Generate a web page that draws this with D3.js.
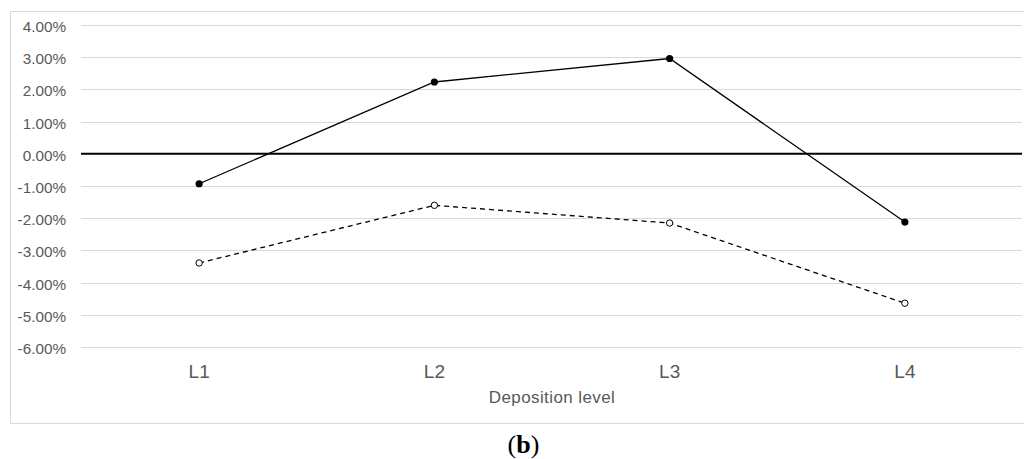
<!DOCTYPE html>
<html><head><meta charset="utf-8">
<script src="https://cdn.jsdelivr.net/npm/d3@7"></script>
<style>body{margin:0;background:#fff;} svg{display:block;}</style>
</head><body><svg id="c" width="1024" height="459"></svg>
<script>
const categories = ["L1","L2","L3","L4"];
const seriesSolid = [-0.93, 2.23, 2.96, -2.12];
const seriesDashed = [-3.39, -1.60, -2.15, -4.64];
const yTicks = [4,3,2,1,0,-1,-2,-3,-4,-5,-6];
const xTitle = "Deposition level";
const caption = "b";

const svg = d3.select("#c");
svg.append("rect").attr("x",10.5).attr("y",11.5).attr("width",1024).attr("height",412)
  .attr("fill","#fff").attr("stroke","#d9d9d9");

const x = d3.scaleBand().domain(categories).range([81.5,1022.5]);
const y = d3.scaleLinear().domain([-6,4]).range([347,25]);

const g = svg.append("g");
g.selectAll("line.grid").data(yTicks.filter(d=>d!==0)).join("line")
  .attr("x1",81).attr("x2",1022).attr("y1",d=>Math.round(y(d))+0.5).attr("y2",d=>Math.round(y(d))+0.5)
  .attr("stroke","#d9d9d9").attr("stroke-width",1);
g.append("line").attr("x1",81).attr("x2",1022).attr("y1",y(0)).attr("y2",y(0))
  .attr("stroke","#000").attr("stroke-width",2);

const yAxis = d3.axisLeft(y).tickValues(yTicks).tickSize(0).tickPadding(0)
  .tickFormat(d=>(d<0?"-":"")+Math.abs(d).toFixed(2)+"%");
const ya = svg.append("g").attr("transform","translate(66,0)").call(yAxis);
ya.select(".domain").remove();
ya.selectAll("text").attr("font-family","Liberation Sans, Arial, sans-serif").attr("font-size",15.3).attr("fill","#595959").attr("dy","0.42em");

const xAxis = d3.axisBottom(x).tickSize(0).tickPadding(0);
const xa = svg.append("g").attr("transform","translate(0,364)").call(xAxis);
xa.select(".domain").remove();
xa.selectAll("text").attr("font-family","Liberation Sans, Arial, sans-serif").attr("font-size",19).attr("fill","#595959").attr("dy","0.73em");

svg.append("text").attr("x",552).attr("y",403).attr("text-anchor","middle")
  .attr("font-family","Liberation Sans, Arial, sans-serif").attr("font-size",17).attr("letter-spacing",0.4).attr("fill","#595959").text(xTitle);

const cap = svg.append("text").attr("x",523.5).attr("y",453).attr("text-anchor","middle")
  .attr("font-family","Liberation Serif, Times New Roman, serif").attr("font-size",26).attr("fill","#000");
cap.append("tspan").text("(");
cap.append("tspan").attr("font-weight","bold").text(caption);
cap.append("tspan").text(")");

const line = d3.line().x((d,i)=>x(categories[i])+x.bandwidth()/2).y(d=>y(d));
svg.append("path").datum(seriesSolid).attr("d",line).attr("fill","none").attr("stroke","#000").attr("stroke-width",1.3);
svg.append("path").datum(seriesDashed).attr("d",line).attr("fill","none").attr("stroke","#000").attr("stroke-width",1.3).attr("stroke-dasharray","5,4");

svg.selectAll("circle.s").data(seriesSolid).join("circle")
  .attr("cx",(d,i)=>x(categories[i])+x.bandwidth()/2).attr("cy",d=>y(d)).attr("r",3.6).attr("fill","#000");
svg.selectAll("circle.d").data(seriesDashed).join("circle")
  .attr("cx",(d,i)=>x(categories[i])+x.bandwidth()/2).attr("cy",d=>y(d)).attr("r",3.2).attr("fill","#fff").attr("stroke","#000").attr("stroke-width",1);
</script></body></html>
